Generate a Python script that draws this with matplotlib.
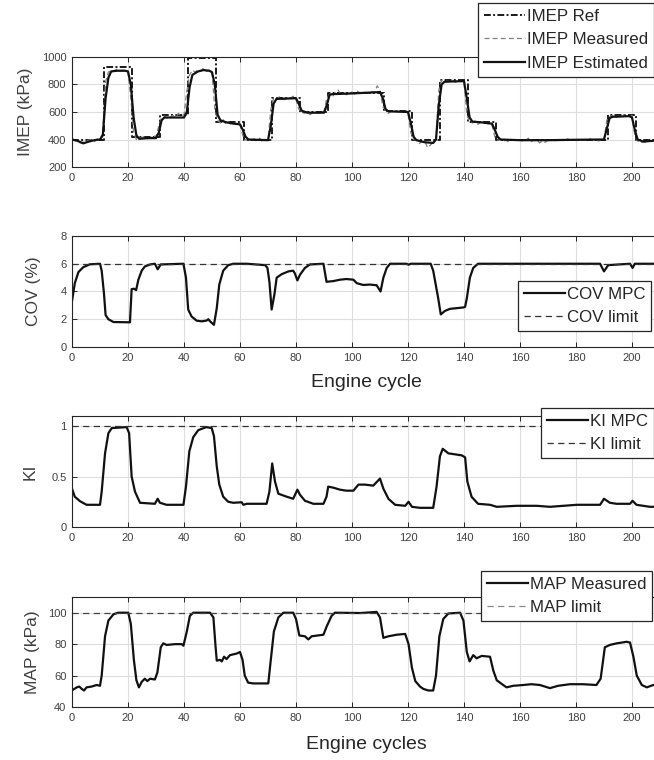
import matplotlib
matplotlib.use('Agg')
import matplotlib.pyplot as plt
from matplotlib import font_manager as fm

names = {f.name for f in fm.fontManager.ttflist}
NARROW = 'Liberation Sans Narrow' if 'Liberation Sans Narrow' in names else 'Liberation Sans'
REG = 'Liberation Sans'

# ---------------- data ----------------
cycles_axis = [0, 210]
xticks = [0, 20, 40, 60, 80, 100, 120, 140, 160, 180, 200]

# IMEP reference (stairs): switch cycles and levels
ref_x = [0, 11.5, 21.5, 31.5, 41.5, 51.5, 61.5, 71.5, 81.5, 91.5, 111.5, 121.5,
         131.5, 141.5, 151.5, 191.5, 201.5, 210]
ref_y = [400, 930, 415, 575, 992, 530, 400, 700, 600, 740, 605, 400,
         830, 525, 400, 575, 400, 400]

# IMEP measured, one value per cycle 0..210
imep_meas = [405, 395, 385, 375, 380, 390, 395, 400, 385, 405, 395,
             460, 820, 890, 905, 900, 910, 895, 905, 900, 895,
             700, 450, 400, 410, 415, 420, 405, 415, 430, 420,
             500, 560, 570, 555, 565, 575, 560, 590, 570, 580,
             750, 870, 905, 890, 910, 900, 920, 895, 905, 890,
             620, 540, 520, 545, 510, 530, 500, 520, 505, 510,
             430, 395, 400, 390, 405, 395, 410, 385, 400, 395,
             620, 700, 690, 710, 695, 690, 705, 700, 715, 690,
             620, 600, 590, 605, 580, 595, 600, 590, 605, 600,
             700, 730, 710, 745, 760, 730, 735, 725, 740, 745,
             730, 750, 735, 745, 740, 735, 750, 740, 790, 760,
             640, 610, 590, 605, 600, 610, 595, 600, 605, 590,
             450, 400, 395, 370, 385, 390, 340, 360, 380, 400,
             760, 830, 815, 825, 820, 830, 815, 825, 820, 830,
             580, 530, 520, 535, 510, 525, 515, 520, 510, 505,
             420, 395, 400, 385, 395, 380, 400, 395, 390, 400,
             385, 395, 410, 385, 395, 400, 375, 390, 380, 395,
             390, 400, 385, 395, 400, 390, 405, 395, 400, 395,
             390, 400, 395, 390, 405, 395, 400, 390, 395, 400,
             540, 565, 575, 555, 570, 565, 580, 570, 565, 575,
             430, 390, 375, 385, 380, 395, 385, 390, 395, 390]

# IMEP estimated (vertices)
est_x = [0, 2, 4, 6, 8, 10, 11, 12, 13, 14, 16, 19, 20, 21, 22, 23, 24, 27, 30,
         31, 32, 33, 40, 41, 42, 43, 45, 47, 49, 50, 51, 52, 53, 55, 58, 60, 61,
         62, 63, 70, 71, 72, 73, 80, 81, 82, 84, 90, 91, 92, 93, 100, 105, 110,
         111, 112, 113, 120, 121, 122, 123, 126, 129, 130, 131, 132, 133, 140,
         141, 142, 143, 146, 150, 151, 152, 153, 160, 170, 180, 190, 191, 192,
         193, 199, 200, 201, 202, 204, 207, 210]
est_y = [400, 390, 372, 385, 395, 400, 430, 700, 850, 895, 900, 900, 895, 800,
         560, 430, 405, 410, 410, 450, 540, 560, 560, 600, 780, 870, 895, 905,
         900, 890, 800, 580, 540, 525, 515, 510, 470, 420, 400, 395, 500, 660,
         695, 700, 660, 610, 595, 595, 650, 725, 730, 735, 740, 745, 700, 620,
         605, 600, 520, 420, 395, 380, 375, 400, 650, 800, 820, 825, 700, 560,
         530, 525, 515, 470, 420, 400, 395, 395, 398, 400, 480, 555, 565, 570,
         560, 470, 400, 385, 390, 392]

# COV MPC
cov_x = [0, 1, 2.3, 4, 6.4, 10, 10.6, 11.4, 12, 13, 14.8, 20.7, 21.3, 22.2, 22.9,
         23.7, 24.9, 26, 27.9, 29.6, 30.6, 31.7, 39.8, 40.7, 41.5, 42.7, 44.5,
         46.3, 48, 48.7, 49.3, 50.7, 51.7, 52.6, 54, 55.8, 57.6, 62.4, 69, 69.8,
         70.5, 71.3, 72.3, 73.1, 74.9, 77.3, 79, 79.6, 80.5, 81.4, 83.2, 85,
         89.8, 90.9, 93.3, 95.7, 98, 100.5, 101.7, 104, 106.4, 108.8, 110.2,
         111.2, 112.4, 113.6, 119.5, 120.2, 121, 128.1, 129, 130.8, 131.7, 133.2,
         135, 137.4, 139.8, 140.4, 141, 142.1, 143.3, 145, 188.6, 190, 191.5,
         199.3, 200.2, 201, 210]
cov_y = [3.3, 4.6, 5.4, 5.75, 5.96, 6.0, 5.5, 3.9, 2.3, 2.0, 1.8, 1.78, 4.17, 4.2,
         4.1, 4.85, 5.5, 5.8, 5.95, 6.0, 5.6, 5.95, 6.0, 5.0, 2.7, 2.2, 1.9, 1.85,
         1.9, 2.0, 1.85, 1.6, 2.8, 4.5, 5.5, 5.9, 6.0, 6.0, 5.9, 5.7, 4.7, 2.7,
         3.8, 5.0, 5.25, 5.45, 5.5, 5.3, 4.8, 5.2, 5.7, 5.95, 6.0, 4.7, 4.75,
         4.85, 4.9, 4.85, 4.6, 4.47, 4.5, 4.45, 4.0, 5.0, 5.7, 6.0, 6.0, 5.93,
         6.0, 6.0, 5.5, 3.5, 2.35, 2.6, 2.75, 2.8, 2.85, 2.9, 3.5, 5.0, 5.7, 6.0,
         6.0, 5.45, 5.9, 6.0, 5.7, 6.0, 6.0]
cov_limit = 6

# KI MPC
ki_x = [0, 1, 2.9, 5.2, 10, 10.6, 11.8, 13, 14.2, 19.5, 20.4, 21.3, 22.5, 24.3,
        29.6, 30.6, 31.4, 33.8, 39.8, 40.7, 41.9, 43.3, 45.1, 48, 49.9, 50.7,
        51.7, 52.6, 54, 55.8, 57.6, 60.6, 61.2, 62.4, 69.5, 70.5, 71.5, 72.5,
        73.7, 76.7, 79, 80.5, 81.4, 83.2, 86.2, 89.8, 90.9, 91.5, 93.3, 95.7,
        98, 100.5, 102.3, 104.6, 107.6, 110, 111.2, 113, 115.4, 119, 120.2,
        121.4, 124.3, 129, 130.2, 131.4, 132.4, 134.4, 136.8, 139.2, 140.4,
        141.2, 142.7, 145, 149.3, 151.7, 158.8, 166, 170.7, 180.3, 188.6, 190,
        192.1, 194.5, 199.3, 200.2, 201.6, 206.4, 210]
ki_y = [0.38, 0.3, 0.255, 0.22, 0.22, 0.35, 0.73, 0.93, 0.98, 0.99, 0.93, 0.5,
        0.35, 0.24, 0.23, 0.28, 0.24, 0.22, 0.22, 0.4, 0.75, 0.89, 0.96, 0.99,
        0.98, 0.9, 0.6, 0.42, 0.3, 0.25, 0.24, 0.245, 0.22, 0.23, 0.23, 0.35,
        0.63, 0.45, 0.33, 0.3, 0.28, 0.37, 0.32, 0.26, 0.23, 0.23, 0.3, 0.4,
        0.39, 0.37, 0.36, 0.36, 0.42, 0.42, 0.41, 0.48, 0.38, 0.28, 0.22, 0.21,
        0.25, 0.2, 0.19, 0.19, 0.4, 0.7, 0.775, 0.73, 0.72, 0.71, 0.69, 0.45,
        0.3, 0.23, 0.22, 0.2, 0.21, 0.21, 0.2, 0.22, 0.22, 0.28, 0.24, 0.23,
        0.23, 0.26, 0.22, 0.2, 0.2]
ki_limit = 1

# MAP measured
map_x = [0, 1.7, 2.6, 3.5, 4.3, 5.2, 7, 8.8, 10, 10.6, 11.8, 13, 14.8, 16.5, 20.1,
         21, 22.1, 23, 23.9, 24.9, 26, 26.9, 27.9, 29.6, 30.5, 31.7, 32.6, 33.8,
         36.8, 39.2, 39.8, 41, 42.1, 43.3, 49.3, 50.5, 51.2, 51.7, 52.9, 53.5,
         54.3, 55.2, 56.4, 58.8, 60, 60.9, 61.7, 62.9, 64.7, 70.1, 71, 72.1,
         73.7, 75.5, 79, 80, 81.2, 83.2, 84.4, 85.6, 89.8, 90.9, 92.7, 93.9,
         102.9, 108.8, 110, 111.2, 113, 116, 119, 120.2, 121.4, 122.6, 124.3,
         125.5, 127.3, 129, 130, 131.2, 132.6, 134.4, 138.6, 139.8, 141, 142,
         143.3, 144.5, 146.3, 149.3, 150.5, 151.7, 154, 155.2, 157.6, 161.2,
         164.1, 167.1, 170.7, 173.6, 177.8, 182.5, 187.3, 188.8, 190.3, 192.1,
         194.5, 198.1, 199.3, 200.5, 201.7, 203.5, 205.3, 207.6, 210]
map_y = [50.6, 52.5, 53, 51.5, 50.5, 52.5, 53, 54, 53.5, 60, 85, 95, 99, 100, 100,
         93, 70, 57, 52.5, 56, 58, 56.5, 58, 57.5, 62, 78, 80.5, 79.5, 80, 80,
         79, 88, 98, 100, 100, 97, 80, 69.5, 70, 69, 72, 70.5, 73, 74, 75, 70,
         60, 55.5, 55, 55, 70, 88, 97, 100, 100, 96, 85.5, 85, 83, 85, 86, 91,
         98, 100, 99.8, 100.5, 97, 84, 85, 86, 86.5, 80, 65, 56.5, 53, 51.5,
         50.5, 50.5, 60, 85, 96, 99.5, 100, 95, 75, 69, 73, 71, 72.5, 72, 63,
         57, 54, 52.5, 53.5, 54, 54.5, 54, 52, 53.5, 54.5, 54.5, 54, 58, 78,
         79.5, 80.5, 81.5, 81, 72, 60, 54, 52.5, 54, 54]
map_limit = 100

# ---------------- style ----------------
TXT = '#262626'
GRID = '#dedede'
W, H = 654, 760

fig = plt.figure(figsize=(W / 100, H / 100), dpi=100)

left = 72 / W
width = (660 - 72) / W


def make_ax(top_px, bot_px):
    ax = fig.add_axes([left, 1 - bot_px / H, width, (bot_px - top_px) / H])
    ax.set_xlim(*cycles_axis)
    ax.set_xticks(xticks)
    ax.grid(True, color=GRID, lw=0.8)
    ax.set_axisbelow(True)
    ax.tick_params(direction='in', top=True, right=True, length=3.5, width=0.7,
                   colors=TXT, labelsize=8, pad=4)
    for s in ax.spines.values():
        s.set_color(TXT)
        s.set_linewidth(0.8)
    return ax


def style_legend(leg):
    leg.get_frame().set_edgecolor(TXT)
    leg.get_frame().set_linewidth(0.9)
    for t in leg.get_texts():
        t.set_color(TXT)


leg_kw = dict(frameon=True, fancybox=False, framealpha=1, handlelength=2.45,
              handletextpad=0.08, labelspacing=0.5, borderpad=0.35,
              borderaxespad=0, prop={'family': NARROW, 'size': 12.2})

# Panel 1: IMEP
ax1 = make_ax(57, 167)
ax1.set_ylim(200, 1000)
ax1.set_yticks([200, 400, 600, 800, 1000])
l_ref, = ax1.step(ref_x, ref_y, where='post', color='#1a1a1a', lw=1.4,
                  ls=(0, (3.5, 1.2, 1, 1.2)), label='IMEP Ref')
l_meas, = ax1.plot(range(len(imep_meas)), imep_meas, color='#808080', lw=0.9,
                   ls=(0, (4, 2.5)), label='IMEP Measured')
l_est, = ax1.plot(est_x, est_y, color='#111111', lw=1.6, label='IMEP Estimated')
ax1.set_ylabel('IMEP (kPa)', family=REG, fontsize=12.5, color='#404040', labelpad=6)
leg1 = ax1.legend(handles=[l_ref, l_meas, l_est], loc='upper left',
                  bbox_to_anchor=(478 / W, 1 - 3 / H), bbox_transform=fig.transFigure,
                  **leg_kw)
style_legend(leg1)

# Panel 2: COV
ax2 = make_ax(236, 347)
ax2.set_ylim(0, 8)
ax2.set_yticks([0, 2, 4, 6, 8])
c1, = ax2.plot(cov_x, cov_y, color='#111111', lw=1.6, label='COV MPC')
c2 = ax2.axhline(cov_limit, color='#333333', lw=0.9, ls=(0, (5, 3.5)), label='COV limit')
ax2.set_ylabel('COV (%)', family=REG, fontsize=12.5, color='#404040', labelpad=14)
ax2.set_xlabel('Engine cycle', family=NARROW, fontsize=14, color=TXT, labelpad=8)
leg2 = ax2.legend(handles=[c1, c2], loc='upper left',
                  bbox_to_anchor=(518 / W, 1 - 281 / H), bbox_transform=fig.transFigure,
                  **leg_kw)
style_legend(leg2)

# Panel 3: KI
ax3 = make_ax(416, 527)
ax3.set_ylim(0, 1.1)
ax3.set_yticks([0, 0.5, 1])
ax3.set_yticklabels(['0', '0.5', '1'])
k1, = ax3.plot(ki_x, ki_y, color='#111111', lw=1.6, label='KI MPC')
k2 = ax3.axhline(ki_limit, color='#333333', lw=0.9, ls=(0, (5, 3.5)), label='KI limit')
ax3.set_ylabel('KI', family=REG, fontsize=12.5, color='#404040', labelpad=10)
leg3 = ax3.legend(handles=[k1, k2], loc='upper left',
                  bbox_to_anchor=(541 / W, 1 - 408 / H), bbox_transform=fig.transFigure,
                  **leg_kw)
style_legend(leg3)

# Panel 4: MAP
ax4 = make_ax(597, 707)
ax4.set_ylim(40, 110)
ax4.set_yticks([40, 60, 80, 100])
m1, = ax4.plot(map_x, map_y, color='#111111', lw=1.6, label='MAP Measured')
m2 = ax4.axhline(map_limit, color='#444444', lw=0.9, ls=(0, (5, 3.5)), label='MAP limit')
ax4.set_ylabel('MAP (kPa)', family=REG, fontsize=12.5, color='#404040', labelpad=6)
ax4.set_xlabel('Engine cycles', family=NARROW, fontsize=14, color=TXT, labelpad=10)
leg4 = ax4.legend(handles=[m1, m2], loc='upper left',
                  bbox_to_anchor=(481 / W, 1 - 571 / H), bbox_transform=fig.transFigure,
                  **leg_kw)
style_legend(leg4)
leg4.legend_handles[1].set_color('#888888')

for ax in (ax1, ax2, ax3, ax4):
    for lab in ax.get_xticklabels() + ax.get_yticklabels():
        lab.set_family(REG)
        lab.set_color('#404040')

fig.savefig('out.png', dpi=100)
